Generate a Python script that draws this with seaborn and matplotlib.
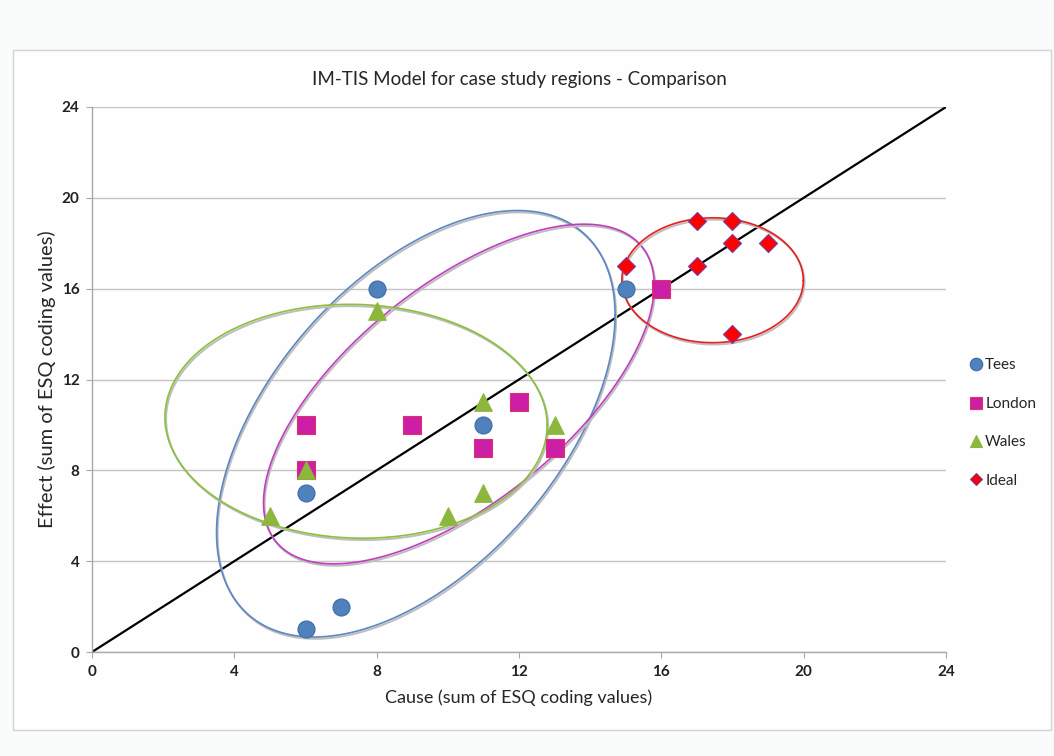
import numpy as np
import pandas as pd
import matplotlib
matplotlib.use("Agg")
import matplotlib.pyplot as plt
import matplotlib.transforms as mtransforms
from matplotlib.patches import Rectangle
from matplotlib.lines import Line2D
import seaborn as sns

# data
tees_x = [6, 7, 6, 8, 11, 15]
tees_y = [1, 2, 7, 16, 10, 16]
london_x = [6, 6, 9, 11, 12, 13, 16]
london_y = [10, 8, 10, 9, 11, 9, 16]
wales_x = [5, 6, 8, 10, 11, 11, 13]
wales_y = [6, 8, 15, 6, 11, 7, 10]
ideal_x = [15, 17, 18, 17, 18, 19, 18]
ideal_y = [17, 19, 19, 17, 18, 18, 14]

regions = ["Tees", "London", "Wales", "Ideal"]
colors = {"Tees": "#4F81BD", "London": "#CC1FA6", "Wales": "#8DB63C", "Ideal": "#FF0000"}
edges = {"Tees": "#3E6CA8", "London": "#E0306A", "Wales": "#8DB63C", "Ideal": "#7A3FA0"}
markers = {"Tees": "o", "London": "s", "Wales": "^", "Ideal": "D"}
sizes = {"Tees": 150, "London": 150, "Wales": 160, "Ideal": 85}
leg_sizes = {"Tees": 9, "London": 9, "Wales": 9, "Ideal": 6.5}

# hand-drawn grouping ellipses: centre x, centre y, half-width, half-height, tilt phase (deg)
ell_region = ["Tees", "London", "Wales", "Ideal"]
ell_cx = [9.10, 10.31, 7.42, 17.44]
ell_cy = [10.05, 11.36, 10.16, 16.37]
ell_rx = [5.60, 5.49, 5.37, 2.55]
ell_ry = [9.39, 7.48, 5.15, 2.75]
ell_phi = [59.3, 50.2, 92.0, 90.0]
ell_colors = {"Tees": "#5B87C2", "London": "#C23CC2", "Wales": "#8CC03C", "Ideal": "#E81E1E"}

df = pd.concat([
    pd.DataFrame({"cause": tees_x, "effect": tees_y, "region": "Tees"}),
    pd.DataFrame({"cause": london_x, "effect": london_y, "region": "London"}),
    pd.DataFrame({"cause": wales_x, "effect": wales_y, "region": "Wales"}),
    pd.DataFrame({"cause": ideal_x, "effect": ideal_y, "region": "Ideal"}),
], ignore_index=True)

sns.set_style("white")
plt.rcParams["font.family"] = ["Lato", "DejaVu Sans"]

fig = plt.figure(figsize=(10.54, 7.56), dpi=100, facecolor="#f9fcfa")
W, H = 1054, 756
fig.patches.append(Rectangle((13 / W, 1 - 730 / H), (1051 - 13) / W, (730 - 50) / H,
                             transform=fig.transFigure, facecolor="#fdfefd",
                             edgecolor="#d3d3d3", lw=1, zorder=-5))
ax = fig.add_axes([92 / W, 1 - 652 / H, (946 - 92) / W, (652 - 107) / H])
ax.set_zorder(1)
ax.set_facecolor("none")

# grid lines
ax.set_xlim(0, 24)
ax.set_ylim(0, 24)
ax.set_xticks(range(0, 25, 4))
ax.set_yticks(range(0, 25, 4))
ax.yaxis.grid(True, color="#c4c4c4", lw=1)
ax.xaxis.grid(False)
ax.set_axisbelow(True)

# diagonal reference line
ax.plot([0, 24], [0, 24], color="black", lw=1.6, zorder=2)

# ellipses with a grey shadow line
t = np.linspace(0, 2 * np.pi, 400)
shadow = mtransforms.offset_copy(ax.transData, fig=fig, x=0.8, y=-1.3, units="points")
for name, cx, cy, rx, ry, phi in zip(ell_region, ell_cx, ell_cy, ell_rx, ell_ry, ell_phi):
    ex = cx + rx * np.cos(t)
    ey = cy + ry * np.cos(t - np.radians(phi))
    ax.plot(ex, ey, color="#bdbdbd", lw=1.4, transform=shadow, zorder=3)
    ax.plot(ex, ey, color=ell_colors[name], lw=1.2, zorder=3)

for name in regions:
    sub = df[df["region"] == name]
    sns.scatterplot(data=sub, x="cause", y="effect", ax=ax, marker=markers[name],
                    s=sizes[name], color=colors[name], edgecolor=edges[name],
                    linewidth=0.8, legend=False, zorder=4)

ax.set_title("IM-TIS Model for case study regions - Comparison", fontsize=13.5, pad=16)
ax.set_xlabel("Cause (sum of ESQ coding values)", fontsize=13, labelpad=8)
ax.set_ylabel("Effect (sum of ESQ coding values)", fontsize=14.5, labelpad=4)
ax.tick_params(axis="both", length=4, color="#a8a8a8", direction="out",
               bottom=True, left=True, pad=5)
for lab in ax.get_xticklabels() + ax.get_yticklabels():
    lab.set_fontweight("bold")
    lab.set_fontsize(11)
    lab.set_color("#222222")
for s in ["top", "right"]:
    ax.spines[s].set_visible(False)
for s in ["left", "bottom"]:
    ax.spines[s].set_color("#a8a8a8")
    ax.spines[s].set_linewidth(1)

handles = [Line2D([], [], ls="none", marker=markers[n], markersize=leg_sizes[n],
                  markerfacecolor=colors[n], markeredgecolor=edges[n], markeredgewidth=0.8)
           for n in regions]
ax.legend(handles, regions, loc="center left", bbox_to_anchor=(1.019, 0.42),
          frameon=False, fontsize=11, labelspacing=1.6, handletextpad=0.1,
          handlelength=1.0, borderaxespad=0)

fig.savefig("out.png", dpi=100, facecolor=fig.get_facecolor())
